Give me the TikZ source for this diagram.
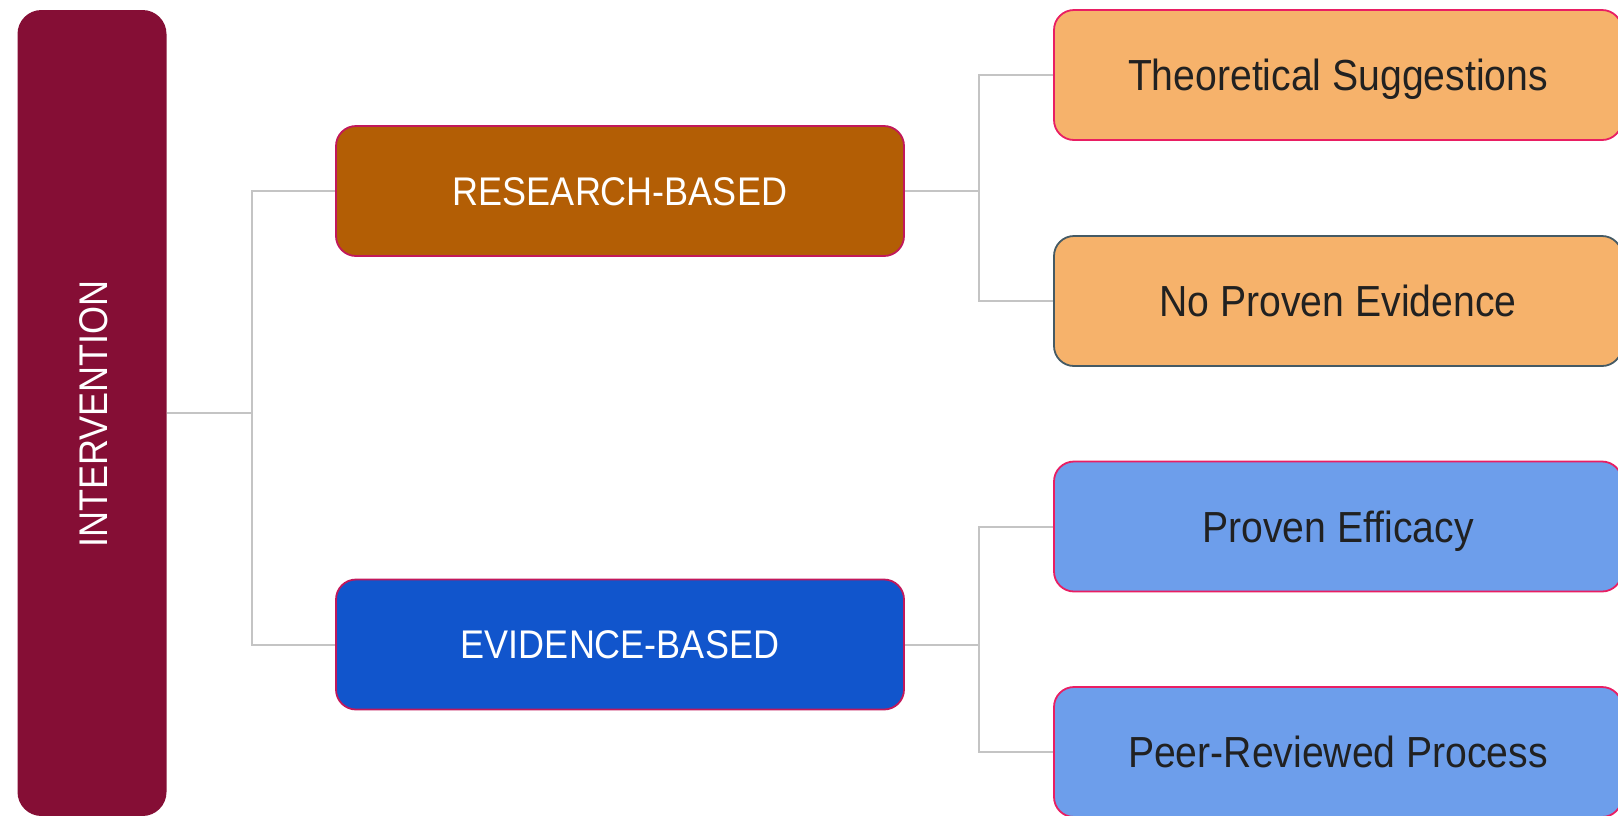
\documentclass[tikz,border=0pt]{standalone}
\usepackage{fontspec}
\setmainfont{Liberation Sans}[FakeStretch=0.9]
\definecolor{berry}{HTML}{850E35}
\definecolor{rustorange}{HTML}{B35E05}
\definecolor{royalblue}{HTML}{1155CC}
\definecolor{peach}{HTML}{F6B26B}
\definecolor{skyblue}{HTML}{6D9EEB}
\definecolor{crimsonedge}{HTML}{E91E63}
\definecolor{darkcrimson}{HTML}{C2185B}
\definecolor{slateedge}{HTML}{455A64}
\definecolor{linkgrey}{HTML}{C4C4C4}
\definecolor{inktext}{HTML}{212121}
\tikzset{
  box/.style={rectangle, rounded corners=20pt, minimum width=568pt, minimum height=130pt,
    inner sep=0pt, line width=1.8pt, align=center, text depth=0pt},
  capbox/.style={box, text=white, font=\fontsize{40}{40}\selectfont, text height=28.6pt},
  leafbox/.style={box, text=inktext, font=\fontsize{43.5}{43.5}\selectfont, text height=31.1pt},
  link/.style={draw=linkgrey, line width=2pt},
}
\begin{document}
\begin{tikzpicture}[x=1pt, y=-1pt]
\useasboundingbox (0,0) rectangle (1618,815);
\clip (0,0) rectangle (1618,815);
\fill[white] (0,0) rectangle (1618,815);

% root column
\node[rectangle, rounded corners=24pt, fill=berry, minimum width=149pt, minimum height=806pt, inner sep=0pt]
  (interv) at (92,413) {};
\node[rotate=90, text=white, font=\fontsize{40}{40}\selectfont, text height=28.6pt, text depth=0pt, inner sep=0pt]
  (intervlabel) at (93,414) {INTERVENTION};

% middle level
\node[capbox, fill=rustorange, draw=darkcrimson] (research) at (620,191) {RESEARCH-BASED};
\node[capbox, fill=royalblue, draw=darkcrimson] (evidence) at (620,644.5) {EVIDENCE-BASED};

% leaves
\node[leafbox, fill=peach, draw=crimsonedge] (theo) at (1338,75) {Theoretical Suggestions};
\node[leafbox, fill=peach, draw=slateedge] (noproof) at (1338,301) {No Proven Evidence};
\node[leafbox, fill=skyblue, draw=crimsonedge] (efficacy) at (1338,526.5) {Proven Efficacy};
\node[leafbox, fill=skyblue, draw=crimsonedge] (peer) at (1338,752) {Peer-Reviewed Process};

% connectors
\draw[link] (interv.east) -- ++(85,0) coordinate (j1);
\draw[link] (j1) |- (research.west);
\draw[link] (j1) |- (evidence.west);
\draw[link] (research.east) -- ++(74,0) coordinate (j2);
\draw[link] (j2) |- (theo.west);
\draw[link] (j2) |- (noproof.west);
\draw[link] (evidence.east) -- ++(74,0) coordinate (j3);
\draw[link] (j3) |- (efficacy.west);
\draw[link] (j3) |- (peer.west);
\end{tikzpicture}
\end{document}
